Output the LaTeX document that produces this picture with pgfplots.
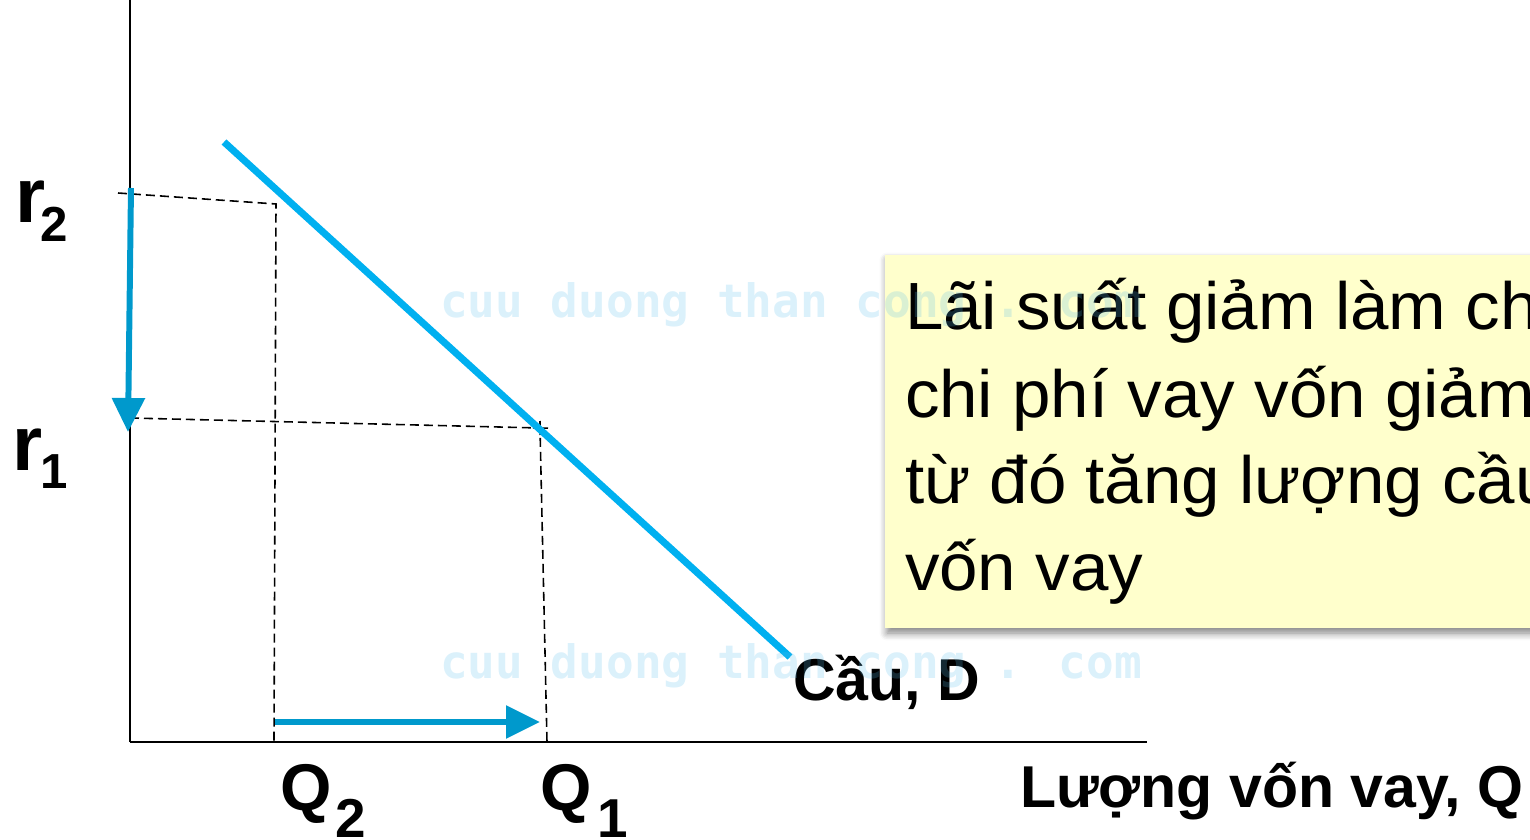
\documentclass[border=0pt]{standalone}
\usepackage{fontspec}
\setmainfont{Liberation Sans}
\newfontfamily\boxfont{Liberation Sans}[FakeStretch=1.035]
\newfontfamily\wmfont{DejaVu Sans Mono}
\usepackage{pgfplots}
\pgfplotsset{compat=1.18}
\usetikzlibrary{arrows.meta,shadows.blur}
\definecolor{demand}{HTML}{00B0F0}
\definecolor{arrowblue}{HTML}{0099CC}
\definecolor{boxyellow}{HTML}{FFFFCC}
\definecolor{wm}{HTML}{5BBDEB}
\newcommand{\fs}[1]{\fontsize{#1}{1.2\dimexpr#1\relax}\selectfont}
\tikzset{lbl/.style={anchor=base west, inner sep=0pt, outer sep=0pt}}
\begin{document}
\begin{tikzpicture}
\useasboundingbox (0,0) rectangle (153mm,83.9mm);
\clip (0,0) rectangle (153mm,83.9mm);
\begin{axis}[
  at={(13mm,9.7mm)}, anchor=south west,
  scale only axis, width=101.7mm, height=74.2mm,
  xmin=130, xmax=1147, ymin=97, ymax=839,
  axis lines=left,
  axis line style={-, line width=0.6pt, black},
  xtick=\empty, ytick=\empty,
  clip=false,
]
% dashed guide lines
\addplot[black, line width=0.45pt, dash pattern=on 0.9mm off 0.5mm] coordinates {(118,646) (276,635) (274,97)};
\addplot[black, line width=0.45pt, dash pattern=on 0.9mm off 0.5mm] coordinates {(130,421) (540,411) (547,97)};
\addplot[black, line width=0.45pt] coordinates {(533,411.2) (548,410.8)};
\addplot[black, line width=0.45pt] coordinates {(540,418) (540.2,404)};
% demand curve
\addplot[demand, line width=2pt] coordinates {(224,697) (790,182)};
% arrows
\addplot[arrowblue, line width=1.7pt, -{Triangle[length=3.4mm,width=3.2mm]}] coordinates {(131,651) (128,407)};
\addplot[arrowblue, line width=1.7pt, -{Triangle[length=3.4mm,width=3.2mm]}] coordinates {(275,117) (540,117)};
% labels
\node[lbl] at (axis cs:15,616) {\fs{22pt}\bfseries r};
\node[lbl] at (axis cs:40,597) {\fs{14pt}\bfseries 2};
\node[lbl] at (axis cs:12,369) {\fs{22pt}\bfseries r};
\node[lbl] at (axis cs:40,351) {\fs{14pt}\bfseries 1};
\node[lbl] at (axis cs:280,29) {\fs{18.8pt}\bfseries Q};
\node[lbl] at (axis cs:335,2) {\fs{15.6pt}\bfseries 2};
\node[lbl] at (axis cs:540,29) {\fs{18.8pt}\bfseries Q};
\node[lbl] at (axis cs:597,2) {\fs{15.6pt}\bfseries 1};
\node[lbl] at (axis cs:793,139) {\fs{16.8pt}\bfseries Cầu, D};
\node[lbl] at (axis cs:1020,32) {\fs{16.8pt}\bfseries Lượng vốn vay, Q};
% text box
\fill[boxyellow, blur shadow={shadow xshift=0.2mm, shadow yshift=-0.5mm, shadow blur steps=6, shadow opacity=50}] (axis cs:885,584) rectangle (axis cs:1640,211);
\node[lbl] at (axis cs:905,509) {\boxfont\fs{19pt}Lãi suất giảm làm cho};
\node[lbl] at (axis cs:905,422) {\boxfont\fs{19pt}chi phí vay vốn giảm,};
\node[lbl] at (axis cs:905,336) {\boxfont\fs{19pt}từ đó tăng lượng cầu};
\node[lbl] at (axis cs:905,249) {\boxfont\fs{19pt}vốn vay};
% watermark
\node[lbl, text=wm, opacity=0.22] at (axis cs:440,521) {\wmfont\bfseries\fs{13.1pt}cuu duong than cong . com};
\node[lbl, text=wm, opacity=0.22] at (axis cs:440,161) {\wmfont\bfseries\fs{13.1pt}cuu duong than cong . com};
\end{axis}
\end{tikzpicture}
\end{document}
